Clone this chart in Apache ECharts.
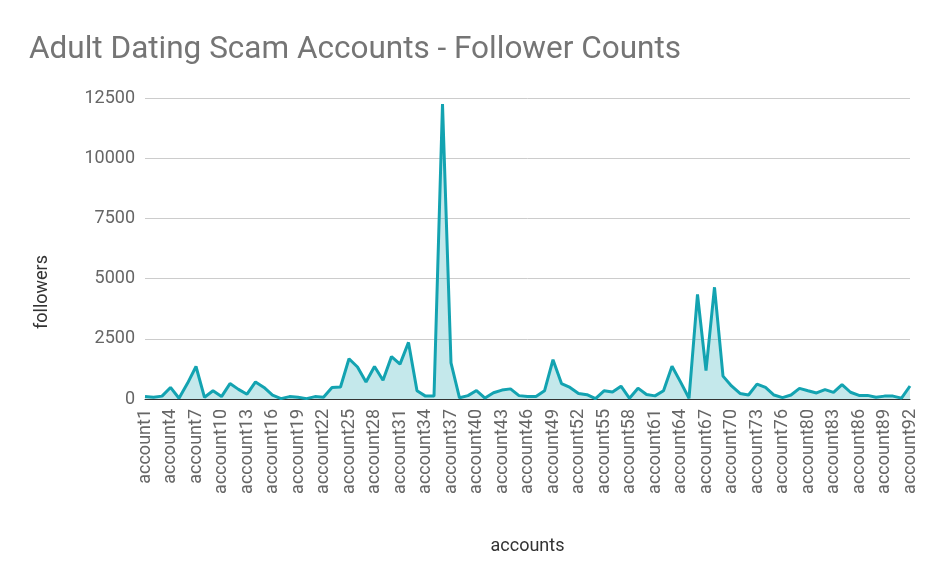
<!DOCTYPE html>
<html>
<head>
<meta charset="utf-8">
<script src="https://cdn.jsdelivr.net/npm/echarts@6/dist/echarts.min.js"></script>
<style>
html,body{margin:0;padding:0;background:#fff;}
#chart{width:938px;height:580px;}
</style>
</head>
<body>
<div id="chart"></div>
<script>
var titleText = 'Adult Dating Scam Accounts - Follower Counts';
var xAxisName = 'accounts';
var yAxisName = 'followers';

var categories = [
  'account1','account2','account3','account4','account5','account6','account7','account8','account9','account10',
  'account11','account12','account13','account14','account15','account16','account17','account18','account19','account20',
  'account21','account22','account23','account24','account25','account26','account27','account28','account29','account30',
  'account31','account32','account33','account34','account35','account36','account37','account38','account39','account40',
  'account41','account42','account43','account44','account45','account46','account47','account48','account49','account50',
  'account51','account52','account53','account54','account55','account56','account57','account58','account59','account60',
  'account61','account62','account63','account64','account65','account66','account67','account68','account69','account70',
  'account71','account72','account73','account74','account75','account76','account78','account79','account80','account81',
  'account82','account83','account84','account85','account86','account87','account88','account89','account90','account91',
  'account92'
];

var followers = [
  100, 70, 120, 480, 30, 650, 1350, 70, 340, 100,
  640, 400, 200, 710, 480, 160, 15, 100, 70, 15,
  100, 70, 480, 500, 1670, 1330, 710, 1350, 780, 1760,
  1450, 2350, 340, 120, 120, 12250, 1500, 50, 140, 350,
  40, 260, 370, 420, 140, 100, 100, 340, 1630, 640,
  480, 230, 180, 15, 340, 290, 530, 30, 450, 190,
  130, 340, 1360, 710, 30, 4340, 1180, 4640, 950, 540,
  230, 165, 620, 480, 165, 55, 165, 440, 340, 250,
  390, 275, 600, 280, 150, 150, 70, 120, 120, 35,
  540
];

var yMin = 0, yMax = 12500, yStep = 2500;

var chart = echarts.init(document.getElementById('chart'));
chart.setOption({
  backgroundColor: '#ffffff',
  animation: false,
  textStyle: { fontFamily: 'Roboto' },
  title: {
    text: titleText,
    left: 29,
    top: 34,
    padding: 0,
    textStyle: { fontFamily: 'Roboto', fontSize: 31.5, fontWeight: 'normal', color: '#757575' }
  },
  grid: { left: 145, right: 28, top: 98, bottom: 181, containLabel: false },
  xAxis: {
    type: 'category',
    data: categories,
    boundaryGap: false,
    name: xAxisName,
    nameLocation: 'middle',
    nameGap: 138,
    nameTextStyle: { fontFamily: 'Roboto', fontSize: 18, color: '#333' },
    axisLine: { show: true, lineStyle: { color: '#333', width: 1 } },
    axisTick: { show: false },
    axisLabel: { interval: 2, rotate: 90, fontSize: 18, color: '#666', margin: 10, fontFamily: 'Roboto' },
    splitLine: { show: false }
  },
  yAxis: {
    type: 'value',
    min: yMin,
    max: yMax,
    interval: yStep,
    axisLine: { show: false },
    axisTick: { show: false },
    axisLabel: {
      fontSize: 18, color: '#666', margin: 10, fontFamily: 'Roboto',
      formatter: function (v) { return String(v); }
    },
    splitLine: { show: true, lineStyle: { color: '#cccccc', width: 1 } }
  },
  graphic: [{
    type: 'text',
    x: 42,
    y: 292,
    rotation: Math.PI / 2,
    style: {
      text: yAxisName,
      fontFamily: 'Roboto',
      fontSize: 18,
      fill: '#333',
      align: 'center',
      verticalAlign: 'middle'
    }
  }],
  series: [{
    type: 'line',
    data: followers,
    symbol: 'none',
    lineStyle: { color: '#13a3b1', width: 3 },
    itemStyle: { color: '#13a3b1' },
    areaStyle: { color: 'rgba(19,163,177,0.36)' }
  }]
});
</script>
</body>
</html>
